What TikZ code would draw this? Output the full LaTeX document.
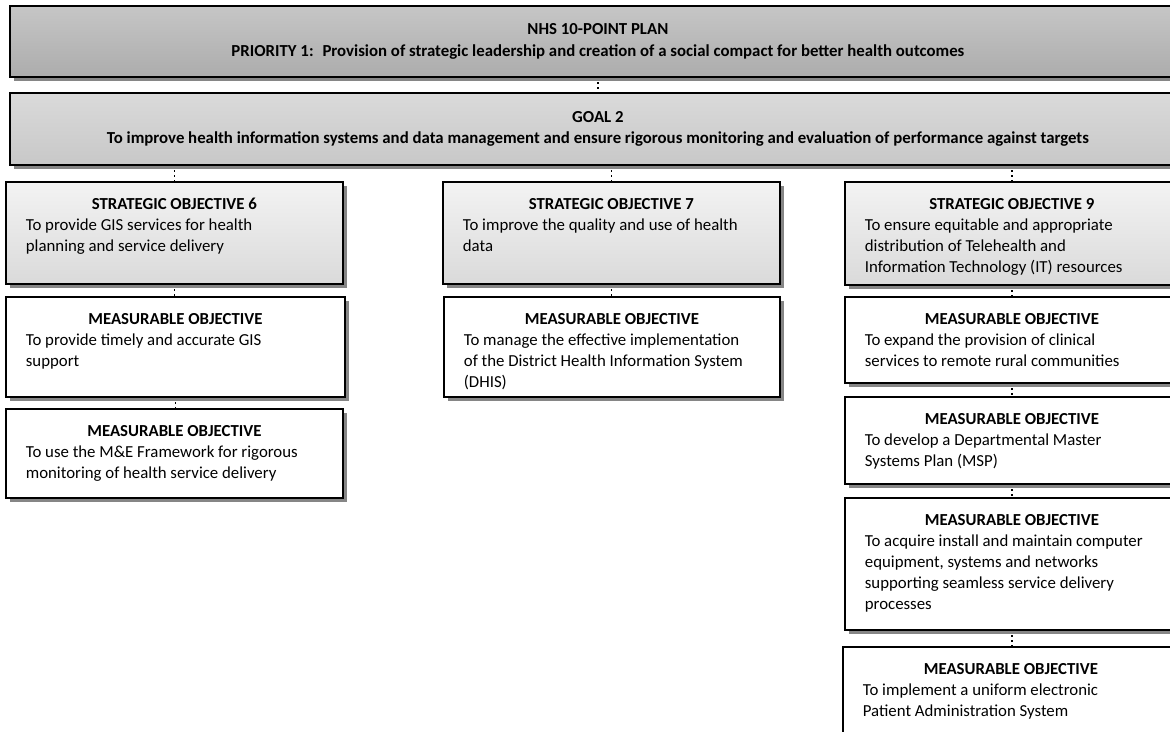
\documentclass[tikz,border=0pt]{standalone}
\usepackage{fontspec}
\setmainfont{Carlito}
\usetikzlibrary{shadows}
\definecolor{plantop}{HTML}{C6C6C6}
\definecolor{planbot}{HTML}{ACACAC}
\definecolor{goaltop}{HTML}{DADADA}
\definecolor{goalbot}{HTML}{C8C8C8}
\definecolor{sotop}{HTML}{F3F3F3}
\definecolor{sobot}{HTML}{DADADA}
\definecolor{shadowgray}{HTML}{868686}

% box of width #1 and height #2 (in pt): bold centred heading, text below
\newcommand{\objcell}[4]{\parbox[c][\dimexpr#2pt-26pt\relax][t]{\dimexpr#1pt-20pt\relax}{%
  {\centering\bfseries\strut#3\par}\raggedright\leftskip=10pt #4\par}}

\begin{document}
\begin{tikzpicture}[x=1pt,y=1pt,
    font=\fontsize{16.8}{21}\selectfont,
    boxline/.style={draw=black,line width=1.8pt,anchor=north west,
      drop shadow={shadow xshift=4.5pt,shadow yshift=-4.5pt,fill=shadowgray,opacity=1}},
    headbox/.style={boxline,align=center,font=\fontsize{16.8}{21.5}\selectfont\bfseries,
      inner sep=0pt,minimum width=1176pt},
    objbox/.style={boxline,fill=white,inner xsep=10pt,inner ysep=13pt},
    sobox/.style={objbox,top color=sotop,bottom color=sobot},
    linkdots/.style={line width=1.8pt,dash pattern=on 2pt off 3pt}]
  \useasboundingbox (0,0) rectangle (1170,-731);
  \clip (0,0) rectangle (1170,-731);

  % plan and goal
  \node[headbox,top color=plantop,bottom color=planbot,minimum height=71pt] (plan) at (9,-5)
    {NHS 10-POINT PLAN\\PRIORITY 1:~ Provision of strategic leadership and creation of a social compact for better health outcomes};
  \node[headbox,top color=goaltop,bottom color=goalbot,minimum height=72pt] (goal) at (9,-92)
    {GOAL 2\\To improve health information systems and data management and ensure rigorous monitoring and evaluation of performance against targets};

  % strategic objectives
  \node[sobox] (so6) at (5,-181) {\objcell{337}{102}{STRATEGIC OBJECTIVE 6}{To provide GIS services for health\\planning and service delivery}};
  \node[sobox] (so7) at (442,-181) {\objcell{337}{102}{STRATEGIC OBJECTIVE 7}{To improve the quality and use of health\\data}};
  \node[sobox] (so9) at (844,-181) {\objcell{334}{103}{STRATEGIC OBJECTIVE 9}{To ensure equitable and appropriate\\distribution of Telehealth and\\Information Technology (IT) resources}};

  % measurable objectives
  \node[objbox] (mo6a) at (5,-296) {\objcell{339}{100}{MEASURABLE OBJECTIVE}{To provide timely and accurate GIS\\support}};
  \node[objbox] (mo6b) at (5,-408) {\objcell{337}{89}{MEASURABLE OBJECTIVE}{To use the M\&E Framework for rigorous\\monitoring of health service delivery}};
  \node[objbox] (mo7) at (443,-296) {\objcell{336}{100}{MEASURABLE OBJECTIVE}{To manage the effective implementation\\of the District Health Information System\\(DHIS)}};
  \node[objbox] (mo9a) at (844,-296) {\objcell{334}{86}{MEASURABLE OBJECTIVE}{To expand the provision of clinical\\services to remote rural communities}};
  \node[objbox] (mo9b) at (844,-396) {\objcell{334}{87}{MEASURABLE OBJECTIVE}{To develop a Departmental Master\\Systems Plan (MSP)}};
  \node[objbox] (mo9c) at (844,-497) {\objcell{334}{132}{MEASURABLE OBJECTIVE}{To acquire install and maintain computer\\equipment, systems and networks\\supporting seamless service delivery\\processes}};
  \node[objbox] (mo9d) at (842,-646) {\objcell{336}{100}{MEASURABLE OBJECTIVE}{To implement a uniform electronic\\Patient Administration System}};

  % dotted links
  \draw[linkdots] ([yshift=-4.5pt]plan.south) -- (goal.north);
  \foreach \so in {so6,so7,so9}
    \draw[linkdots] ([yshift=-4.5pt]\so.north |- goal.south) -- (\so.north);
  \draw[linkdots] ([yshift=-4.5pt]so6.south) -- (so6.south |- mo6a.north);
  \draw[linkdots] ([yshift=-4.5pt]mo6a.south) -- (mo6a.south |- mo6b.north);
  \draw[linkdots] ([yshift=-4.5pt]so7.south) -- (so7.south |- mo7.north);
  \draw[linkdots] ([yshift=-4.5pt]so9.south) -- (mo9a.north);
  \draw[linkdots] ([yshift=-4.5pt]mo9a.south) -- (mo9b.north);
  \draw[linkdots] ([yshift=-4.5pt]mo9b.south) -- (mo9c.north);
  \draw[linkdots] ([yshift=-4.5pt]mo9c.south) -- (mo9c.south |- mo9d.north);
\end{tikzpicture}
\end{document}
